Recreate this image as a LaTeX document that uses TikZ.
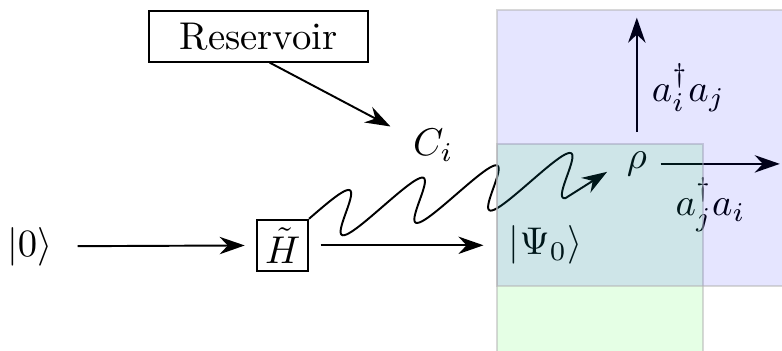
\documentclass[tikz,border=0pt]{standalone}
\usepackage{tikz}
\usetikzlibrary{arrows.meta,decorations.pathmorphing,positioning,calc}
\tikzset{every picture/.style={line width=0.5pt}}
\tikzset{
    arr/.style={-{Stealth[length=6.5pt,width=4.5pt]}},
    gap/.style={shorten <=3pt,shorten >=3pt},
    boxed/.style={draw,inner sep=2pt},
    region/.style={draw=black!30,draw opacity=0.5,fill opacity=0.1},
}

\begin{document}
\begin{tikzpicture}
    \useasboundingbox (0,0) rectangle (7.11,3.19);

    % input state and Hamiltonian
    \node (zero) at (0.27,0.95) {$|0\rangle$};
    \node[boxed] (ham) at (2.57,0.96) {$\tilde{H}$};
    \node (psi) at (4.96,0.96) {$|\Psi_0\rangle$};
    \draw[arr,gap] (zero) -- (ham);
    \draw[arr,gap] (ham) -- (psi);

    % reservoir
    \node[draw,inner xsep=8pt,inner ysep=3pt] (res) at (2.35,2.86) {Reservoir};
    \coordinate (hit) at (3.55,2.04);
    \draw[arr] ([xshift=1mm]res.south) -- (hit);
    \node (ci) at (3.94,1.87) {$C_i$};

    % coupling to the density matrix
    \node (rho) at (5.79,1.70) {$\rho$};
    \begin{scope}[shift={(ham.north east)},rotate=9.5]
        \draw[arr,shorten >=2pt] plot[domain=0:1350,samples=160,smooth]
            ({0.68*\x/360+0.22*sin(\x)},{0.2*sin(\x)}) -- ([yshift=-1pt]rho.west);
    \end{scope}

    % observables
    \coordinate (rhoup) at (5.79,3.03);
    \coordinate (rhoright) at (7.09,1.70);
    \draw[arr,shorten <=1.5pt] (rho.north) -- (rhoup);
    \draw[arr] (rho.east) -- (rhoright);
    \node (lup) at (6.26,2.39) {$a_i^\dagger a_j$};
    \node (lright) at (6.46,1.33) {$a_j^\dagger a_i$};

    % regions
    \draw[region,fill=green] (4.52,-0.2) rectangle (6.39,1.88);
    \draw[region,fill=blue] (4.52,0.59) rectangle (7.4,3.10);
\end{tikzpicture}
\end{document}
